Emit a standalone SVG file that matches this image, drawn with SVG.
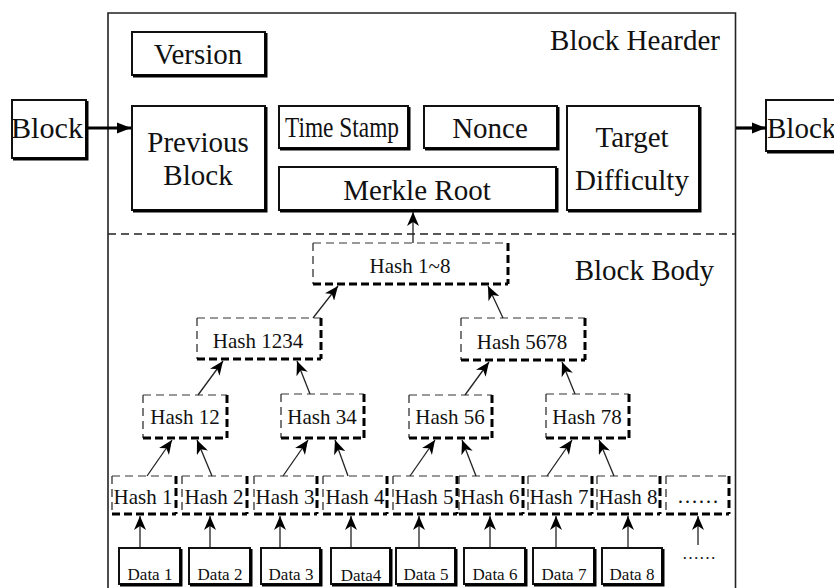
<svg xmlns="http://www.w3.org/2000/svg" width="834" height="588" viewBox="0 0 834 588">
  <defs>
    <style>
      text { font-family: "Liberation Serif", "Times New Roman", serif; fill: #111; }
      .big { font-size: 29px; }
      .mid { font-size: 21px; }
      .small { font-size: 17px; }
      .c { text-anchor: middle; }
      .frame { fill: none; stroke: #222; stroke-width: 1.6; }
      .sep { fill: none; stroke: #222; stroke-width: 1.5; stroke-dasharray: 8 5; }
      .box { fill: #fff; stroke: #111; stroke-width: 2; }
      .shadow { fill: none; stroke: #000; stroke-width: 3; stroke-linejoin: miter; }
      .dt { fill: none; stroke: #999; stroke-width: 2; stroke-dasharray: 8 5; }
      .dl { fill: none; stroke: #333; stroke-width: 1.3; stroke-dasharray: 8 5; }
      .dr { fill: none; stroke: #000; stroke-width: 3; stroke-dasharray: 8 4; }
      .db { fill: none; stroke: #000; stroke-width: 3; stroke-dasharray: 8 4; }
      .link { fill: none; stroke: #222; stroke-width: 1.3; marker-end: url(#head); }
      .thick { fill: none; stroke: #000; stroke-width: 3.2; marker-end: url(#bighead); }
    </style>
    <marker id="head" markerUnits="userSpaceOnUse" markerWidth="14" markerHeight="12" viewBox="0 0 14 12" refX="14" refY="6" orient="auto">
      <path d="M0,0 L14,6 L0,12 L4,6 z" fill="#000"/>
    </marker>
    <marker id="bighead" markerUnits="userSpaceOnUse" markerWidth="14" markerHeight="12" viewBox="0 0 14 12" refX="14" refY="6" orient="auto">
      <path d="M0,0.5 L14,6 L0,11.5 z" fill="#000"/>
    </marker>
  </defs>

  <!-- outer block frame and header/body separator -->
  <g id="frame">
    <path class="frame" d="M108,592 V13 H735.5 V592"/>
    <path class="sep" d="M108,234 H735"/>
    <text class="big" x="720" y="50" text-anchor="end">Block Hearder</text>
    <text class="big" x="714" y="280" text-anchor="end">Block Body</text>
  </g>

  <!-- neighbouring blocks -->
  <g id="block-prev">
    <rect class="box" x="12" y="100" width="74" height="58"/>
    <path class="shadow" d="M87,101 V159 H13"/>
    <text class="big" x="11" y="138" textLength="72" lengthAdjust="spacingAndGlyphs">Block</text>
  </g>
  <g id="block-next">
    <rect class="box" x="766" y="100" width="80" height="51"/>
    <path class="shadow" d="M847,101 V152 H767"/>
    <text class="big" x="767" y="138">Block</text>
  </g>

  <!-- header fields -->
  <g id="version">
    <rect class="box" x="132" y="32" width="133" height="43"/>
    <path class="shadow" d="M266,33 V76 H133"/>
    <text class="big c" x="198" y="64">Version</text>
  </g>
  <g id="previous-block">
    <rect class="box" x="132" y="106" width="133" height="104"/>
    <path class="shadow" d="M266,107 V211 H133"/>
    <text class="big c" x="198" y="152">Previous</text>
    <text class="big c" x="198" y="185">Block</text>
  </g>
  <g id="time-stamp">
    <rect class="box" x="279" y="106" width="129" height="42"/>
    <path class="shadow" d="M409,107 V149 H280"/>
    <text class="big c" x="342" y="137" font-size="26" textLength="114" lengthAdjust="spacingAndGlyphs">Time Stamp</text>
  </g>
  <g id="nonce">
    <rect class="box" x="424" y="106" width="133" height="42"/>
    <path class="shadow" d="M558,107 V149 H425"/>
    <text class="big c" x="490" y="138">Nonce</text>
  </g>
  <g id="merkle-root">
    <rect class="box" x="279" y="167" width="277" height="43"/>
    <path class="shadow" d="M557,168 V211 H280"/>
    <text class="big c" x="417" y="200">Merkle Root</text>
  </g>
  <g id="target-difficulty">
    <rect class="box" x="567" y="106" width="132" height="104"/>
    <path class="shadow" d="M700,107 V211 H568"/>
    <text class="big c" x="632" y="147">Target</text>
    <text class="big c" x="632" y="190">Difficulty</text>
  </g>

  <!-- merkle tree: root -->
  <g id="hash-1-8">
    <path class="dt" d="M313,243 H508"/>
    <path class="dl" d="M313,243 V284"/>
    <path class="dr" d="M508,243 V284"/>
    <path class="db" d="M313,284 H508"/>
    <text class="mid c" x="410" y="273">Hash 1~8</text>
  </g>

  <!-- level 2 -->
  <g id="hash-1234">
    <path class="dt" d="M197,318 H321"/>
    <path class="dl" d="M197,318 V359"/>
    <path class="dr" d="M321,318 V359"/>
    <path class="db" d="M197,359 H321"/>
    <text class="mid c" x="258" y="348">Hash 1234</text>
  </g>
  <g id="hash-5678">
    <path class="dt" d="M461,318 H585"/>
    <path class="dl" d="M461,318 V360"/>
    <path class="dr" d="M585,318 V360"/>
    <path class="db" d="M461,360 H585"/>
    <text class="mid c" x="522" y="349">Hash 5678</text>
  </g>

  <!-- level 3 -->
  <g id="hash-12">
    <path class="dt" d="M143,395 H227"/>
    <path class="dl" d="M143,395 V438"/>
    <path class="dr" d="M227,395 V438"/>
    <path class="db" d="M143,438 H227"/>
    <text class="mid c" x="185" y="424">Hash 12</text>
  </g>
  <g id="hash-34">
    <path class="dt" d="M281,394 H364"/>
    <path class="dl" d="M281,394 V438"/>
    <path class="dr" d="M364,394 V438"/>
    <path class="db" d="M281,438 H364"/>
    <text class="mid c" x="322" y="424">Hash 34</text>
  </g>
  <g id="hash-56">
    <path class="dt" d="M409,395 H492"/>
    <path class="dl" d="M409,395 V438"/>
    <path class="dr" d="M492,395 V438"/>
    <path class="db" d="M409,438 H492"/>
    <text class="mid c" x="450" y="424">Hash 56</text>
  </g>
  <g id="hash-78">
    <path class="dt" d="M546,394 H629"/>
    <path class="dl" d="M546,394 V438"/>
    <path class="dr" d="M629,394 V438"/>
    <path class="db" d="M546,438 H629"/>
    <text class="mid c" x="587" y="424">Hash 78</text>
  </g>

  <!-- leaf hashes -->
  <g id="hash-1">
    <path class="dt" d="M112,476 H176"/><path class="dl" d="M112,476 V514"/>
    <path class="dr" d="M176,476 V514"/><path class="db" d="M112,514 H176"/>
    <text class="mid c" x="143" y="504">Hash 1</text>
  </g>
  <g id="hash-2">
    <path class="dt" d="M182,476 H247"/><path class="dl" d="M182,476 V514"/>
    <path class="dr" d="M247,476 V514"/><path class="db" d="M182,514 H247"/>
    <text class="mid c" x="214" y="504">Hash 2</text>
  </g>
  <g id="hash-3">
    <path class="dt" d="M254,476 H317"/><path class="dl" d="M254,476 V514"/>
    <path class="dr" d="M317,476 V514"/><path class="db" d="M254,514 H317"/>
    <text class="mid c" x="285" y="504">Hash 3</text>
  </g>
  <g id="hash-4">
    <path class="dt" d="M323,476 H387"/><path class="dl" d="M323,476 V514"/>
    <path class="dr" d="M387,476 V514"/><path class="db" d="M323,514 H387"/>
    <text class="mid c" x="355" y="504">Hash 4</text>
  </g>
  <g id="hash-5">
    <path class="dt" d="M393,476 H457"/><path class="dl" d="M393,476 V514"/>
    <path class="dr" d="M457,476 V514"/><path class="db" d="M393,514 H457"/>
    <text class="mid c" x="424" y="504">Hash 5</text>
  </g>
  <g id="hash-6">
    <path class="dt" d="M459,476 H523"/><path class="dl" d="M459,476 V514"/>
    <path class="dr" d="M523,476 V514"/><path class="db" d="M459,514 H523"/>
    <text class="mid c" x="490" y="504">Hash 6</text>
  </g>
  <g id="hash-7">
    <path class="dt" d="M528,476 H592"/><path class="dl" d="M528,476 V514"/>
    <path class="dr" d="M592,476 V514"/><path class="db" d="M528,514 H592"/>
    <text class="mid c" x="559" y="504">Hash 7</text>
  </g>
  <g id="hash-8">
    <path class="dt" d="M597,476 H660"/><path class="dl" d="M597,476 V514"/>
    <path class="dr" d="M660,476 V514"/><path class="db" d="M597,514 H660"/>
    <text class="mid c" x="628" y="504">Hash 8</text>
  </g>
  <g id="hash-more">
    <path class="dt" d="M666,476 H729"/><path class="dl" d="M666,476 V514"/>
    <path class="dr" d="M729,476 V514"/><path class="db" d="M666,514 H729"/>
    <text class="mid c" x="698" y="503">……</text>
  </g>

  <!-- data blocks -->
  <g id="data-1">
    <rect class="box" x="119" y="548" width="61" height="36"/><path class="shadow" d="M181,549 V585 H120"/>
    <text class="small c" x="150" y="580">Data 1</text>
  </g>
  <g id="data-2">
    <rect class="box" x="189" y="548" width="61" height="36"/><path class="shadow" d="M251,549 V585 H190"/>
    <text class="small c" x="220" y="580">Data 2</text>
  </g>
  <g id="data-3">
    <rect class="box" x="261" y="548" width="59" height="36"/><path class="shadow" d="M321,549 V585 H262"/>
    <text class="small c" x="291" y="580">Data 3</text>
  </g>
  <g id="data-4">
    <rect class="box" x="331" y="548" width="59" height="36"/><path class="shadow" d="M391,549 V585 H332"/>
    <text class="small c" x="361" y="581">Data4</text>
  </g>
  <g id="data-5">
    <rect class="box" x="396" y="548" width="59" height="36"/><path class="shadow" d="M456,549 V585 H397"/>
    <text class="small c" x="426" y="580">Data 5</text>
  </g>
  <g id="data-6">
    <rect class="box" x="464" y="548" width="61" height="36"/><path class="shadow" d="M526,549 V585 H465"/>
    <text class="small c" x="495" y="580">Data 6</text>
  </g>
  <g id="data-7">
    <rect class="box" x="533" y="548" width="61" height="36"/><path class="shadow" d="M595,549 V585 H534"/>
    <text class="small c" x="564" y="580">Data 7</text>
  </g>
  <g id="data-8">
    <rect class="box" x="602" y="548" width="60" height="36"/><path class="shadow" d="M663,549 V585 H603"/>
    <text class="small c" x="632" y="580">Data 8</text>
  </g>
  <g id="data-more">
    <text class="small c" x="699" y="559" font-size="14" fill="#444">……</text>
  </g>

  <!-- connectors -->
  <g id="connectors">
    <line class="thick" x1="87" y1="128" x2="131" y2="128"/>
    <line class="thick" x1="736" y1="128" x2="766" y2="128"/>
    <line class="link" x1="413" y1="243" x2="413" y2="212"/>

    <line class="link" x1="313" y1="318" x2="338" y2="286"/>
    <line class="link" x1="503" y1="318" x2="488" y2="286"/>

    <line class="link" x1="198" y1="395" x2="223" y2="361"/>
    <line class="link" x1="310" y1="394" x2="297" y2="361"/>
    <line class="link" x1="465" y1="395" x2="489" y2="362"/>
    <line class="link" x1="575" y1="394" x2="562" y2="362"/>

    <line class="link" x1="147" y1="476" x2="172" y2="440"/>
    <line class="link" x1="212" y1="476" x2="197" y2="440"/>
    <line class="link" x1="283" y1="476" x2="308" y2="440"/>
    <line class="link" x1="348" y1="476" x2="335" y2="440"/>
    <line class="link" x1="410" y1="476" x2="435" y2="440"/>
    <line class="link" x1="476" y1="476" x2="462" y2="440"/>
    <line class="link" x1="547" y1="476" x2="572" y2="440"/>
    <line class="link" x1="614" y1="476" x2="599" y2="440"/>

    <line class="link" x1="140" y1="547" x2="140" y2="516"/>
    <line class="link" x1="210" y1="547" x2="210" y2="516"/>
    <line class="link" x1="280" y1="547" x2="280" y2="516"/>
    <line class="link" x1="351" y1="547" x2="351" y2="516"/>
    <line class="link" x1="419" y1="547" x2="419" y2="516"/>
    <line class="link" x1="490" y1="547" x2="490" y2="516"/>
    <line class="link" x1="556" y1="547" x2="556" y2="516"/>
    <line class="link" x1="628" y1="547" x2="628" y2="516"/>
    <line class="link" x1="698" y1="545" x2="698" y2="516"/>
  </g>
</svg>
